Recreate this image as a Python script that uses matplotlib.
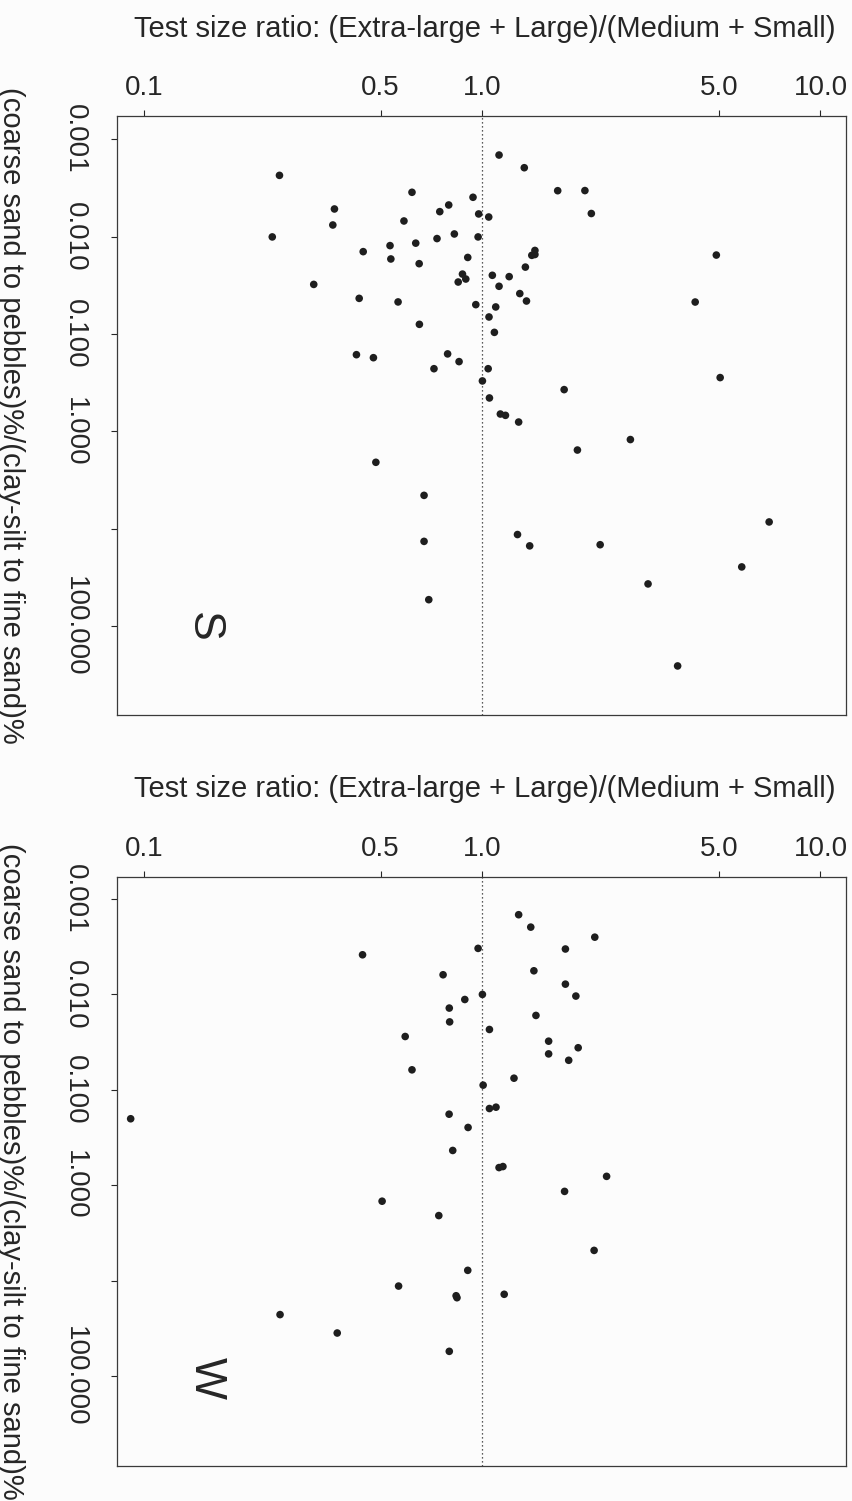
import matplotlib
matplotlib.use("Agg")
import matplotlib.pyplot as plt

plt.rcParams['font.family'] = ['Liberation Sans', 'DejaVu Sans']

# Test size ratio (x) and grain size ratio (y), season S
s_ratio = [1.12, 1.33, 0.251, 1.67, 0.619, 0.938, 0.795, 0.365, 0.748, 0.975,
           1.044, 0.586, 0.361, 0.239, 0.971, 0.734, 0.826, 0.635, 0.533, 0.444,
           1.43, 1.40, 1.43, 0.536, 0.905, 0.650, 1.34, 1.07, 1.20, 0.873,
           0.893, 0.848, 1.12, 0.317, 1.29, 1.35, 0.432, 0.563, 0.956, 1.095,
           1.046, 0.651, 1.085, 0.424, 0.476, 0.789, 0.853, 0.719, 1.04, 1.00,
           1.745, 1.049, 1.13, 1.17, 1.28, 1.91, 0.484, 0.672, 0.672, 1.27,
           1.38, 0.694, 2.01, 2.10, 4.92, 4.26, 5.05, 2.74, 7.05, 2.23,
           5.85, 3.09, 3.78]
s_grain = [0.00146, 0.00197, 0.00236, 0.00339, 0.00352, 0.00396, 0.00475, 0.00522, 0.00556, 0.00587,
           0.00631, 0.00693, 0.00762, 0.0101, 0.0101, 0.0105, 0.00942, 0.0117, 0.0124, 0.0143,
           0.0139, 0.0156, 0.0153, 0.0170, 0.0164, 0.0190, 0.0206, 0.0250, 0.0258, 0.0243,
           0.0273, 0.0293, 0.0324, 0.0310, 0.0385, 0.0459, 0.0431, 0.0469, 0.0500, 0.0528,
           0.0669, 0.0796, 0.0962, 0.163, 0.175, 0.160, 0.192, 0.227, 0.227, 0.303,
           0.372, 0.453, 0.662, 0.683, 0.80, 1.55, 2.07, 4.52, 13.4, 11.4,
           14.9, 53.1, 0.00338, 0.00581, 0.0155, 0.047, 0.280, 1.21, 8.47, 14.5,
           24.5, 36.6, 254.0]

# season W
w_ratio = [1.28, 1.39, 0.971, 1.76, 0.442, 0.765, 1.42, 1.76, 1.00, 1.89,
           0.887, 0.798, 0.800, 1.44, 0.591, 1.049, 1.57, 1.57, 1.92, 1.80,
           0.619, 1.24, 1.005, 0.0911, 1.049, 1.097, 0.797, 0.907, 0.817, 1.12,
           1.15, 1.75, 0.505, 0.743, 0.905, 0.565, 0.836, 0.841, 1.16, 0.252,
           0.372, 0.798, 2.15, 2.33, 2.14]
w_grain = [0.00146, 0.00197, 0.00329, 0.00334, 0.00384, 0.00622, 0.00565, 0.0078, 0.0100, 0.0104,
           0.0113, 0.0139, 0.0194, 0.0166, 0.0276, 0.0233, 0.0309, 0.0420, 0.0362, 0.0490,
           0.0617, 0.0755, 0.0893, 0.201, 0.157, 0.152, 0.180, 0.248, 0.432, 0.653,
           0.637, 1.16, 1.47, 2.08, 7.80, 11.4, 14.4, 15.1, 13.9, 22.7,
           35.4, 55.1, 0.00251, 0.807, 4.82]

x_ticks = [0.1, 0.5, 1.0, 5.0, 10.0]
x_labels = ['0.1', '0.5', '1.0', '5.0', '10.0']
y_ticks = [0.001, 0.01, 0.1, 1.0, 10.0, 100.0]
y_labels = ['0.001', '0.010', '0.100', '1.000', '', '100.000']

xlabel = 'Test size ratio: (Extra-large + Large)/(Medium + Small)'
ylabel = '(coarse sand to pebbles)%/(clay-silt to fine sand)%'
ink = '#262626'

W, H = 853, 1501
fig = plt.figure(figsize=(W / 100, H / 100), dpi=100, facecolor='#fcfcfc')


def panel(box, xs, ys, ylim, letter, letter_xy, title_y):
    left, top, right, bottom = box
    ax = fig.add_axes([left / W, 1 - bottom / H, (right - left) / W, (bottom - top) / H])
    ax.set_facecolor('#fcfcfc')
    ax.set_xscale('log')
    ax.set_yscale('log')
    ax.set_xlim(0.083, 11.9)
    ax.set_ylim(*ylim)
    ax.axvline(1.0, color=ink, lw=0.9, ls=(0, (1, 2.2)))
    ax.scatter(xs, ys, s=30, color='#1e1e1e', edgecolors='none', zorder=3)

    ax.xaxis.set_ticks_position('top')
    ax.set_xticks(x_ticks)
    ax.set_xticklabels(x_labels)
    ax.set_yticks(y_ticks)
    ax.set_yticklabels(y_labels, rotation=270, va='center')
    ax.minorticks_off()
    ax.tick_params(axis='x', direction='out', length=4, width=0.8, colors=ink,
                   labelsize=20, pad=7)
    ax.tick_params(axis='y', direction='out', length=4, width=0.8, colors=ink,
                   labelsize=20, pad=17)
    for sp in ax.spines.values():
        sp.set_color('#3a3a3a')
        sp.set_linewidth(0.9)

    ax.text(letter_xy[0], letter_xy[1], letter, transform=ax.transAxes,
            rotation=270, fontsize=32, color=ink, ha='center', va='center')
    fig.text(485 / W, 1 - title_y / H, xlabel, fontsize=21, color=ink,
             ha='center', va='baseline')
    fig.text(11 / W, 1 - (top + bottom) / 2 / H, ylabel, fontsize=21, color=ink,
             rotation=270, ha='center', va='center')
    return ax


panel((117, 116, 846, 715), s_ratio, s_grain, (10 ** 2.908, 10 ** -3.236),
      'S', (0.118, 0.147), 37)
panel((117, 877, 846, 1466), w_ratio, w_grain, (10 ** 2.943, 10 ** -3.231),
      'W', (0.123, 0.149), 797)

fig.savefig('out.png', dpi=100, facecolor=fig.get_facecolor())
